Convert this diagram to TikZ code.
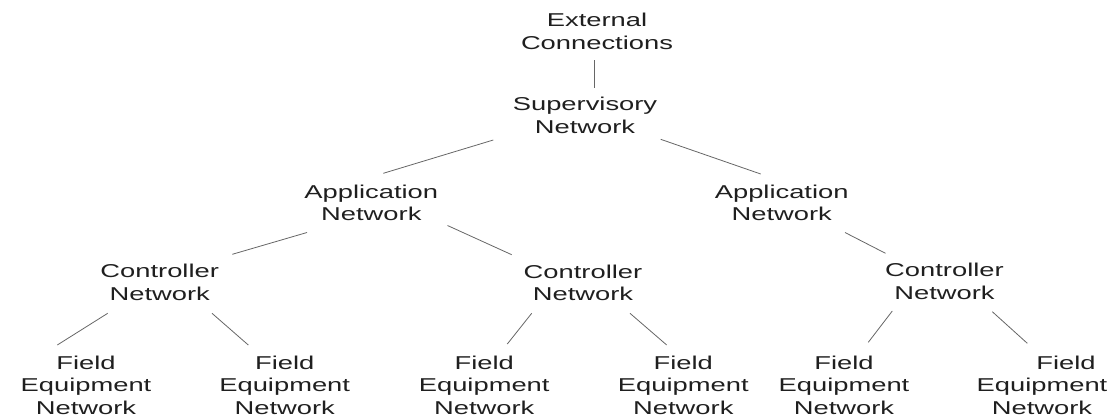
\documentclass[tikz,border=0pt]{standalone}
\usepackage{fontspec}
\setmainfont{Liberation Sans}
\usepackage{graphicx}
\usetikzlibrary{calc}

% Labels are set in a narrow-height sans and widened horizontally
\newcommand{\netlabel}[1]{\scalebox{1.47}[1]{\fontsize{18.6}{22.5}\selectfont\begin{tabular}[t]{@{}c@{}}#1\end{tabular}}}

\tikzset{
  lvl/.style={anchor=base, inner sep=0pt, text=black!88},
  link/.style={draw=black!60, line width=0.8pt}
}

\begin{document}
\begin{tikzpicture}[x=1pt, y=-1pt]
\useasboundingbox (0,0) rectangle (1112,416);

% hierarchy levels
\node[lvl] (ext)  at (597,26.7)   {\netlabel{External\\Connections}};
\node[lvl] (sup)  at (585,110.7)  {\netlabel{Supervisory\\Network}};
\node[lvl] (appL) at (371.3,198.3) {\netlabel{Application\\Network}};
\node[lvl] (appR) at (781.7,198.3) {\netlabel{Application\\Network}};
\node[lvl] (ctlL) at (159.7,277.7) {\netlabel{Controller\\Network}};
\node[lvl] (ctlM) at (583,278.3)   {\netlabel{Controller\\Network}};
\node[lvl] (ctlR) at (944.5,276.7) {\netlabel{Controller\\Network}};
\node[lvl] (f1) at (86,369.3)    {\netlabel{Field\\Equipment\\Network}};
\node[lvl] (f2) at (284.7,369.3) {\netlabel{Field\\Equipment\\Network}};
\node[lvl] (f3) at (484.2,369.3) {\netlabel{Field\\Equipment\\Network}};
\node[lvl] (f4) at (683.3,369.3) {\netlabel{Field\\Equipment\\Network}};
\node[lvl] (f5) at (844,369.3)   {\netlabel{Field\\Equipment\\Network}};
\node[lvl] (f6) at (1042,369.3)  {\netlabel{\hspace*{32.7pt}Field\\Equipment\\Network}};

% connectors
\draw[link] ($(ext.base)+(-3,33.3)$)     -- ($(sup.base)+(9,-22.7)$);
\draw[link] ($(sup.base)+(-91.7,29.3)$)  -- ($(appL.base)+(12,-25)$);
\draw[link] ($(sup.base)+(75.7,28.6)$)   -- ($(appR.base)+(-21,-24.3)$);
\draw[link] ($(appL.base)+(-64.3,34.2)$) -- ($(ctlL.base)+(72.6,-23.4)$);
\draw[link] ($(appL.base)+(76.2,27.2)$)  -- ($(ctlM.base)+(-71.3,-23.6)$);
\draw[link] ($(appR.base)+(63.3,34.2)$)  -- ($(ctlR.base)+(-59,-23.4)$);
\draw[link] ($(ctlL.base)+(-52,35.6)$)   -- ($(f1.base)+(-28.7,-24.3)$);
\draw[link] ($(ctlL.base)+(52.3,35.6)$)  -- ($(f2.base)+(-36.4,-24.3)$);
\draw[link] ($(ctlM.base)+(-51.3,35)$)   -- ($(f3.base)+(23.1,-25.3)$);
\draw[link] ($(ctlM.base)+(47,35)$)      -- ($(f4.base)+(-16.6,-24.3)$);
\draw[link] ($(ctlR.base)+(-52.2,34.3)$) -- ($(f5.base)+(24.3,-27)$);
\draw[link] ($(ctlR.base)+(47.8,35)$)    -- ($(f6.base)+(-14.7,-26)$);
\end{tikzpicture}
\end{document}
